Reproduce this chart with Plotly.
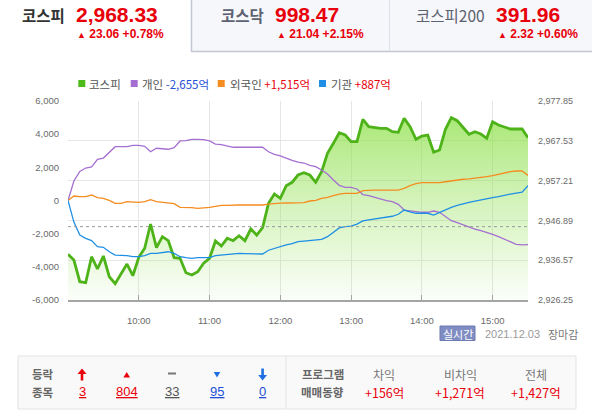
import pandas as pd
import plotly.graph_objects as go

# ---------------- data ----------------
times = pd.date_range("2021-12-03 09:00", "2021-12-03 15:30", freq="5min")

kospi = [2938.10, 2936.62, 2930.99, 2930.73, 2937.48, 2934.29, 2937.66, 2932.29, 2930.48, 2933.17, 2935.58, 2932.55,
         2937.32, 2939.66, 2945.96, 2939.81, 2942.66, 2941.63, 2937.22, 2937.06, 2933.33, 2932.73, 2933.59, 2935.77,
         2937.06, 2941.55, 2940.25, 2942.25, 2941.63, 2942.92, 2941.63, 2944.66, 2943.10, 2945.00, 2951.32, 2953.74,
         2952.62, 2955.89, 2956.77, 2958.66, 2959.26, 2958.66, 2956.77, 2959.52, 2964.29, 2966.88, 2969.63, 2969.03,
         2967.30, 2967.30, 2973.10, 2971.19, 2970.93, 2970.77, 2970.77, 2969.89, 2969.73, 2973.36, 2971.19, 2967.92,
         2968.77, 2969.03, 2964.55, 2965.14, 2970.51, 2973.52, 2972.74, 2970.93, 2969.22, 2969.89, 2969.29, 2968.18,
         2972.48, 2971.63, 2971.03, 2970.59, 2970.59, 2970.59, 2968.33]

individual = [0, 1176, 1750, 1960, 2020, 2485, 2560, 2905, 3245, 3245, 3245, 3330,
              3330, 3270, 2940, 3150, 3105, 3090, 3185, 3590, 3605, 3690, 3690, 3665,
              3590, 3405, 3365, 3285, 3210, 3210, 3210, 3210, 3210, 3210, 2940, 2785,
              2685, 2545, 2425, 2320, 2260, 2120, 2040, 1840, 1600, 1235, 915, 795,
              795, 695, 360, 290, 180, 70, -10, -70, -230, -575, -635, -675,
              -710, -710, -635, -710, -975, -1220, -1340, -1475, -1615, -1720, -1820, -1915,
              -2040, -2180, -2340, -2485, -2640, -2680, -2655]

foreign = [0, 270, 230, 230, 330, 170, 130, 10, -170, -170, -70, -110,
           -110, -70, 50, -70, -110, -110, -190, -410, -410, -430, -470, -450,
           -410, -350, -290, -300, -270, -270, -270, -270, -270, -270, -220, -170,
           -160, -150, -140, -130, -130, -30, 10, 130, 190, 300, 390, 430,
           430, 430, 590, 630, 630, 630, 630, 630, 630, 735, 900, 1015,
           1075, 1075, 1075, 1075, 1130, 1195, 1240, 1280, 1310, 1340, 1380, 1435,
           1500, 1580, 1700, 1740, 1780, 1780, 1515]

institution = [0, -1300, -2080, -2280, -2420, -2785, -2820, -3090, -3290, -3290, -3330, -3390,
               -3390, -3330, -3185, -3185, -3150, -3090, -3185, -3390, -3450, -3485, -3450, -3450,
               -3450, -3330, -3290, -3250, -3185, -3190, -3200, -3210, -3220, -3225, -3000, -2880,
               -2800, -2680, -2600, -2485, -2450, -2420, -2400, -2340, -2180, -1900, -1650, -1580,
               -1540, -1420, -1235, -1170, -1120, -1060, -1035, -950, -830, -575, -680, -770,
               -770, -770, -875, -710, -550, -410, -300, -230, -120, -40, 40, 110,
               170, 230, 320, 390, 450, 500, 887]

prev_close = 2945.27

left_ticks = [6000, 4000, 2000, 0, -2000, -4000, -6000]
left_labels = ["6,000", "4,000", "2,000", "0", "-2,000", "-4,000", "-6,000"]
right_ticks = [2977.85, 2967.53, 2957.21, 2946.89, 2936.57, 2926.25]
right_labels = ["2,977.85", "2,967.53", "2,957.21", "2,946.89", "2,936.57", "2,926.25"]
hour_ticks = ["2021-12-03 10:00", "2021-12-03 11:00", "2021-12-03 12:00",
              "2021-12-03 13:00", "2021-12-03 14:00", "2021-12-03 15:00"]
hour_labels = ["10:00", "11:00", "12:00", "13:00", "14:00", "15:00"]

tabs = [("코스피", "2,968.33", "23.06 +0.78%"),
        ("코스닥", "998.47", "21.04 +2.15%"),
        ("코스피200", "391.96", "2.32 +0.60%")]
legend_items = [("코스피", "", "#4cbb17"),
                ("개인", "-2,655억", "#a56fd2"),
                ("외국인", "+1,515억", "#f58c1f"),
                ("기관", "+887억", "#1f8fe5")]
updown_counts = ["3", "804", "33", "95", "0"]
program_heads = ["차익", "비차익", "전체"]
program_values = ["+156억", "+1,271억", "+1,427억"]

# ---------------- geometry helpers ----------------
W, H = 592, 418
L, R, T, B = 68, 528, 101, 300


def px(x):
    return (x - L) / (R - L)


def py(y):
    return (B - y) / (B - T)


KR = "Noto Sans CJK KR"
NUM = "Liberation Sans"
RED = "#e8000b"
BLUE = "#1f4fd6"

fig = go.Figure()

fig.add_trace(go.Scatter(
    x=times, y=kospi, yaxis="y", mode="lines",
    line=dict(color="#4db318", width=2.8),
    fill="tozeroy",
    fillgradient=dict(type="vertical", start=2926.25, stop=2977.85,
                      colorscale=[[0, "rgba(150,226,90,0.04)"],
                                  [0.5, "rgba(150,226,90,0.42)"],
                                  [1, "rgba(140,224,70,0.82)"]]),
    hoverinfo="skip"))

for vals, col in [(individual, "#a56fd2"), (foreign, "#f58c1f"), (institution, "#1f8fe5")]:
    fig.add_trace(go.Scatter(x=times, y=vals, yaxis="y2", mode="lines",
                             line=dict(color=col, width=1.3), hoverinfo="skip"))

shapes = []
annotations = []


def rect(x0, y0, x1, y1, fill, line=None, lw=1, layer="below"):
    shapes.append(dict(type="rect", xref="paper", yref="paper",
                       x0=px(x0), x1=px(x1), y0=py(y1), y1=py(y0),
                       fillcolor=fill, line=dict(color=line or fill, width=lw if line else 0),
                       layer=layer))


def hline(x0, x1, y, col, w=1, dash="solid", layer="above"):
    shapes.append(dict(type="line", xref="paper", yref="paper",
                       x0=px(x0), x1=px(x1), y0=py(y), y1=py(y),
                       line=dict(color=col, width=w, dash=dash), layer=layer))


def vline(x, y0, y1, col, w=1, layer="above"):
    shapes.append(dict(type="line", xref="paper", yref="paper",
                       x0=px(x), x1=px(x), y0=py(y0), y1=py(y1),
                       line=dict(color=col, width=w), layer=layer))


def path(points, col):
    d = "M " + " L ".join(f"{px(a):.5f},{py(b):.5f}" for a, b in points) + " Z"
    shapes.append(dict(type="path", xref="paper", yref="paper", path=d,
                       fillcolor=col, line=dict(color=col, width=0), layer="above"))


def text(x, y, s, size, color, family=KR, xa="left", bold=False):
    annotations.append(dict(x=px(x), y=py(y), xref="paper", yref="paper",
                            text=f"<b>{s}</b>" if bold else s, showarrow=False,
                            xanchor=xa, yanchor="middle",
                            font=dict(family=family, size=size, color=color)))


# ---------------- tabs ----------------
rect(191, 0, 592, 52, "#f6f7fb")
hline(191, 592, 51.5, "#c3c7d4", 1.5)
vline(191.5, 0, 52, "#c3c7d4", 1.5)
vline(389.5, 0, 51, "#dcdfe8", 1)

tab_pos = [(67, 75, 76, "#333333", True), (266, 274, 276, "#5d6270", True), (487, 495, 497, "#5d6270", False)]
for (name, val, chg), (nx, vx, cx, ncol, nb) in zip(tabs, tab_pos):
    text(nx, 15, name, 15.5, ncol, KR, xa="right", bold=nb)
    text(vx - 1, 15, val, 21, RED, NUM, bold=True)
    text(cx - 1, 34, f"<span style='font-size:9px'>▲</span> {chg}", 12, RED, NUM, bold=True)

# ---------------- legend ----------------
leg_sq = [78.3, 130.7, 217.7, 319]
leg_tx = [87, 140, 227.5, 328.5]
for (nm, val, col), sx, tx in zip(legend_items, leg_sq, leg_tx):
    rect(sx, 80, sx + 7, 87, col)
    vcol = BLUE if val.startswith("-") else RED
    s = nm + (f" <span style='color:{vcol}'>{val}</span>" if val else "")
    text(tx, 83.5, s, 11.5, "#555555", KR)

# previous close dashed line
shapes.append(dict(type="line", xref="paper", yref="y", x0=0, x1=1, y0=prev_close, y1=prev_close,
                   line=dict(color="#9a9a9a", width=1, dash="3px,3px"), layer="above"))

# ---------------- under-chart info ----------------
rect(440, 326, 475, 340.5, "#7f8dc2", "#6c7ab2", 1, layer="above")
text(457.5, 333.5, "실시간", 11, "#ffffff", KR, xa="center")
text(483, 333.5, "2021.12.03", 11, "#9a9a9a", NUM)
text(546, 333.5, "장마감", 11, "#777777", KR)

# ---------------- bottom panel ----------------
rect(18, 356, 576, 409, "#f9f9f9", "#e3e3e3", 1)
vline(286, 356, 409, "#e3e3e3", 1)
text(43, 374, "등락", 11.5, "#666666", KR, xa="center", bold=True)
text(43, 392, "종목", 11.5, "#666666", KR, xa="center", bold=True)

# symbols
path([(82, 368.5), (86.5, 374), (83.3, 374), (83.3, 380.5), (80.7, 380.5), (80.7, 374), (77.5, 374)], RED)
path([(126.7, 372), (130, 377.5), (123.4, 377.5)], RED)
rect(168, 372.5, 176, 374.5, "#777777", layer="above")
path([(213.7, 372), (220.3, 372), (217, 377.5)], "#1f6fe0")
path([(261.3, 368.5), (263.9, 368.5), (263.9, 375), (267, 375), (262.6, 380.5), (258.2, 375), (261.3, 375)], "#1f6fe0")

count_cols = [RED, RED, "#555555", BLUE, BLUE]
for xc, val, col in zip([82, 127, 172, 217, 262], updown_counts, count_cols):
    text(xc, 391, f"<u>{val}</u>", 13, col, NUM, xa="center")

text(322.5, 374, "프로그램", 11.5, "#666666", KR, xa="center", bold=True)
text(322.5, 392, "매매동향", 11.5, "#666666", KR, xa="center", bold=True)
for xc, hd, val in zip([384, 460, 536], program_heads, program_values):
    text(xc, 374, hd, 12, "#777777", KR, xa="center")
    text(xc, 392, val, 12.5, RED, KR, xa="center")

tickfont = dict(family=NUM, size=9.5, color="#6a6a6a")
rtickfont = dict(family=NUM, size=9, color="#6a6a6a")

fig.update_layout(
    width=W, height=H,
    margin=dict(l=L, r=W - R, t=T, b=H - B, pad=0),
    paper_bgcolor="white", plot_bgcolor="white",
    showlegend=False,
    shapes=shapes, annotations=annotations,
    xaxis=dict(type="date", range=["2021-12-03 09:00", "2021-12-03 15:30"],
               tickvals=hour_ticks, ticktext=hour_labels,
               showgrid=True, gridcolor="#e6e6e6", gridwidth=1,
               showline=True, linecolor="#a5a5a5", linewidth=2,
               ticks="inside", ticklen=5, tickcolor="#a5a5a5", tickwidth=1,
               ticklabelstandoff=11, tickfont=tickfont, zeroline=False, fixedrange=True),
    yaxis=dict(side="right", range=[2926.25, 2977.85], tickvals=right_ticks, ticktext=right_labels,
               showgrid=True, gridcolor="#e6e6e6", gridwidth=1, zeroline=False,
               ticks="", ticklabelstandoff=9, tickfont=rtickfont, fixedrange=True),
    yaxis2=dict(side="left", overlaying="y", range=[-6000, 6000], tickvals=left_ticks, ticktext=left_labels,
                showgrid=False, zeroline=False, ticks="", ticklabelstandoff=8,
                tickfont=tickfont, fixedrange=True),
)

fig.write_html("out.html", config={"displayModeBar": False})
